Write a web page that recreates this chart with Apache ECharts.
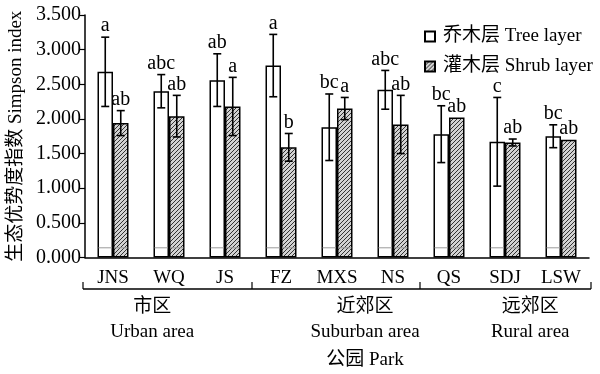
<!DOCTYPE html>
<html><head><meta charset="utf-8">
<script src="https://cdn.jsdelivr.net/npm/echarts@6/dist/echarts.min.js"></script>
<style>html,body{margin:0;padding:0;background:#fff}#c{width:600px;height:374px}</style>
</head><body><div id="c"></div>
<script>
const categories = ['JNS','WQ','JS','FZ','MXS','NS','QS','SDJ','LSW'];
const treeMean = [2.68, 2.40, 2.56, 2.77, 1.88, 2.42, 1.78, 1.67, 1.75];
const treeErr  = [0.50, 0.24, 0.38, 0.45, 0.48, 0.28, 0.41, 0.64, 0.165];
const shrubMean = [1.94, 2.04, 2.18, 1.59, 2.15, 1.92, 2.02, 1.66, 1.70];
const shrubErr  = [0.18, 0.30, 0.42, 0.20, 0.16, 0.42, 0.00, 0.05, 0.00];
const treeLetters  = ['a','abc','ab','a','bc','abc','bc','c','bc'];
const shrubLetters = ['ab','ab','a','b','a','ab','ab','ab','ab'];
const yTicks = [0, 0.5, 1, 1.5, 2, 2.5, 3, 3.5];
const groupNames = ['市区\nUrban area', '近郊区\nSuburban area', '远郊区\nRural area'];
const groupBounds = [0, 3, 6, 9];
const xAxisTitle = '公园 Park';
const yAxisTitle = '生态优势度指数 Simpson index';
const seriesNames = ['乔木层 Tree layer', '灌木层 Shrub layer'];

const FONT = "'Liberation Serif','Times New Roman','Noto Sans CJK SC',serif";
const BW = 15.5;

function hatch(){
  const c = document.createElement('canvas'); c.width = 4; c.height = 4;
  const g = c.getContext('2d');
  g.fillStyle = '#d2d2d2'; g.fillRect(0,0,4,4);
  g.strokeStyle = '#333'; g.lineWidth = 1;
  g.beginPath();
  g.moveTo(0,4); g.lineTo(4,0);
  g.moveTo(-1,1); g.lineTo(1,-1);
  g.moveTo(3,5); g.lineTo(5,3);
  g.stroke();
  return c;
}
const hatchFill = {image: hatch(), repeat: 'repeat'};

function errRender(means, errs, letters, side){
  return function(params, api){
    const i = params.dataIndex;
    const m = means[i], e = errs[i];
    const cx = api.coord([i, m])[0] + side * BW / 2;
    const top = api.coord([i, m + e])[1];
    const bot = api.coord([i, m - e])[1];
    const base = api.coord([i, 0.14])[1];
    const ch = [];
    ch.push({type:'line', shape:{x1:cx-BW/2+1, y1:base, x2:cx+BW/2-1, y2:base}, style:{stroke:'#9a9a9a', lineWidth:1}});
    if (e > 0.001) {
      ch.push({type:'line', shape:{x1:cx, y1:top, x2:cx, y2:bot}, style:{stroke:'#000', lineWidth:1.6}});
      ch.push({type:'line', shape:{x1:cx-4, y1:top, x2:cx+4, y2:top}, style:{stroke:'#000', lineWidth:1.6}});
      ch.push({type:'line', shape:{x1:cx-4, y1:bot, x2:cx+4, y2:bot}, style:{stroke:'#000', lineWidth:1.6}});
    }
    ch.push({type:'text', style:{text:letters[i], x:cx, y:top-1, textAlign:'center', textVerticalAlign:'bottom', font:'20px ' + FONT, fill:'#000'}});
    return {type:'group', children:ch};
  };
}

const chart = echarts.init(document.getElementById('c'), null, {renderer:'canvas'});
chart.setOption({
  animation: false,
  backgroundColor: '#fff',
  grid: {left: 85, right: 11, top: 15, bottom: 116.5, containLabel: false, outerBoundsMode: 'none'},
  legend: {
    data: seriesNames, orient: 'vertical', left: 419, top: 22,
    itemWidth: 10, itemHeight: 10, itemGap: 11, icon: 'rect',
    textStyle: {fontFamily: FONT, fontSize: 19, color: '#000', padding: [0,0,0,3]}
  },
  xAxis: {
    type: 'category', data: categories,
    axisLine: {lineStyle: {color: '#000', width: 1.5}},
    axisTick: {length: 6, lineStyle: {color: '#000', width: 1.2}},
    axisLabel: {interval: 0, fontFamily: FONT, fontSize: 19, color: '#000', margin: 11}
  },
  yAxis: {
    type: 'value', min: 0, max: 3.5, interval: 0.5,
    name: yAxisTitle, nameLocation: 'middle', nameGap: 57, nameRotate: 90,
    nameTextStyle: {fontFamily: FONT, fontSize: 19, color: '#000'},
    splitLine: {show: false},
    axisLine: {show: true, lineStyle: {color: '#000', width: 1.5}},
    axisTick: {show: true, length: 5, lineStyle: {color: '#000', width: 1.2}},
    axisLabel: {fontFamily: FONT, fontSize: 20, color: '#000', margin: 4,
      formatter: v => v.toFixed(3)}
  },
  series: [
    {name: seriesNames[0], type: 'bar', data: treeMean, barWidth: BW, barGap: '0%',
      itemStyle: {color: '#fff', borderColor: '#000', borderWidth: 1.5}},
    {name: seriesNames[1], type: 'bar', data: shrubMean, barWidth: BW, barGap: '0%',
      itemStyle: {color: hatchFill, borderColor: '#000', borderWidth: 1.5}},
    {name: 'errTree', type: 'custom', data: treeMean.map((v,i)=>[i,v]), z: 5,
      renderItem: errRender(treeMean, treeErr, treeLetters, -1)},
    {name: 'errShrub', type: 'custom', data: shrubMean.map((v,i)=>[i,v]), z: 5,
      renderItem: errRender(shrubMean, shrubErr, shrubLetters, 1)}
  ]
});

const c0 = chart.convertToPixel({xAxisIndex: 0}, 0);
const c1 = chart.convertToPixel({xAxisIndex: 0}, 1);
const band = c1 - c0;
const left = c0 - band / 2;
const bY = 289, bTop = 282;
const gfx = [];
const bx = groupBounds.map((k, j) => left + k * band + (j === 0 ? -2 : (j === groupBounds.length - 1 ? 2 : -1)));
gfx.push({type:'line', shape:{x1:bx[0], y1:bY, x2:bx[bx.length-1], y2:bY}, style:{stroke:'#000', lineWidth:1.5}});
bx.forEach(x => gfx.push({type:'line', shape:{x1:x, y1:bY, x2:x, y2:bTop}, style:{stroke:'#000', lineWidth:1.2}}));
const groupPos = [1.2, 5.0, 7.95];
groupNames.forEach((t, j) => {
  const lines = t.split('\n');
  const x = left + groupPos[j] * band;
  gfx.push({type:'text', style:{text: lines[0], x: x, y: 307, textAlign:'center', textVerticalAlign:'middle', font: '19px ' + FONT, fill:'#000'}});
  gfx.push({type:'text', style:{text: lines[1], x: x, y: 332, textAlign:'center', textVerticalAlign:'middle', font: '19px ' + FONT, fill:'#000'}});
});
gfx.push({type:'text', style:{text: xAxisTitle, x: left + 5.0 * band, y: 360, textAlign:'center', textVerticalAlign:'middle', font: '19px ' + FONT, fill:'#000'}});
chart.setOption({graphic: gfx});
</script>
</body></html>
